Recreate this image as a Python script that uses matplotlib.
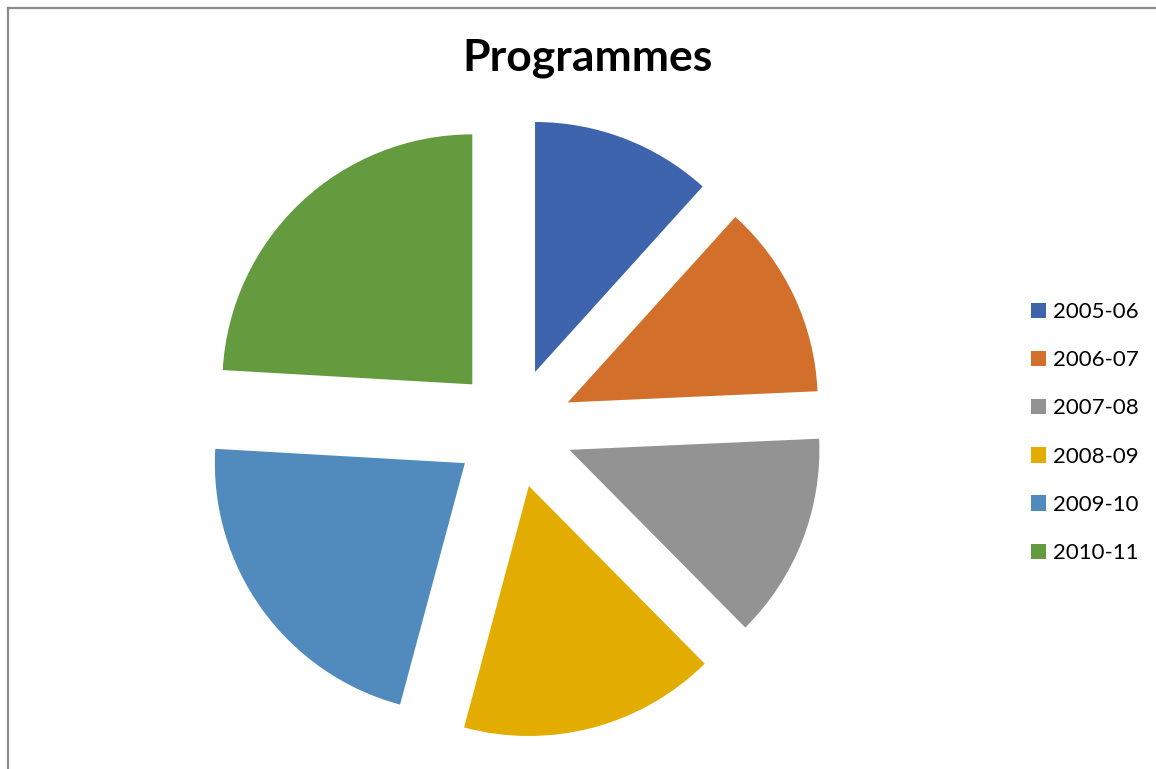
import matplotlib.pyplot as plt
from matplotlib.lines import Line2D
from matplotlib.patches import Patch

years = ['2005-06', '2006-07', '2007-08', '2008-09', '2009-10', '2010-11']
shares = [11.7, 12.6, 13.3, 16.6, 21.75, 24.1]
colors = ['#3E64AD', '#D26F2B', '#939393', '#E2AC00', '#518BBE', '#659B3F']

W, H = 1156, 769
fig = plt.figure(figsize=(W / 100, H / 100), dpi=100)
plt.rcParams['font.family'] = ['Lato', 'DejaVu Sans']

# pie radius 250 px, centre at (513, 428) px from top-left
r = 250.0
cx, cy = 513.5, 428.0
ax = fig.add_axes([0, 0, 1, 1])
ax.pie(shares, colors=colors, startangle=90, counterclock=False,
       explode=[0.24] * len(shares), wedgeprops={'linewidth': 0})
ax.set_aspect('auto')
ax.set_xlim(-cx / r, (W - cx) / r)
ax.set_ylim((cy - H) / r, cy / r)
ax.axis('off')

fig.text(588 / W, 1 - 70 / H, 'Programmes', ha='center', va='baseline',
         fontsize=32, fontweight='bold')

handles = [Patch(facecolor=c, edgecolor='none') for c in colors]
leg = fig.legend(handles, years, loc='upper left',
                 bbox_to_anchor=(1031 / W, 1 - 302 / H), frameon=False,
                 fontsize=16, handlelength=0.68, handleheight=0.68,
                 handletextpad=0.3, labelspacing=1.27, borderpad=0,
                 borderaxespad=0)

# chart border (cropped on right and bottom)
fig.add_artist(Line2D([7.5 / W, 7.5 / W], [0, 1 - 7.5 / H], color='#8C8C8C', lw=1.6))
fig.add_artist(Line2D([7.5 / W, 1], [1 - 7.5 / H, 1 - 7.5 / H], color='#8C8C8C', lw=1.6))

fig.savefig('out.png', dpi=100)
